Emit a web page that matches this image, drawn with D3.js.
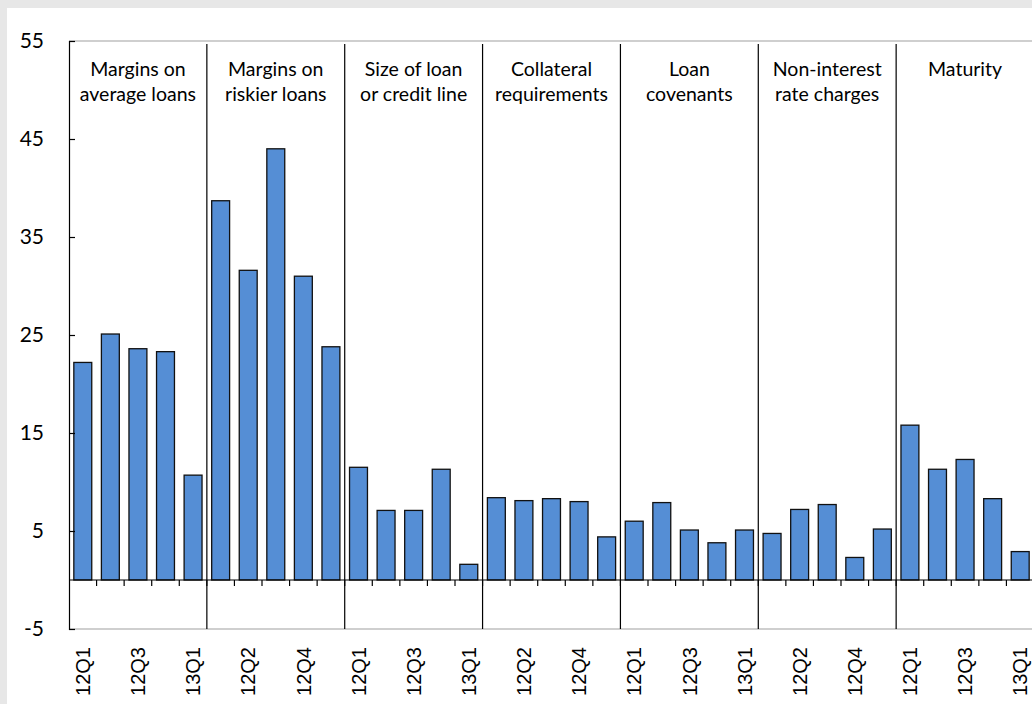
<!DOCTYPE html>
<html><head><meta charset="utf-8">
<script src="https://cdn.jsdelivr.net/npm/d3@7"></script>
<style>html,body{margin:0;padding:0;background:#e7e7e7;}svg{display:block;}</style>
</head><body>
<svg id="chart" width="1032" height="704"></svg>
<script>
const groups = ["Margins on|average loans","Margins on|riskier loans","Size of loan|or credit line","Collateral|requirements","Loan|covenants","Non-interest|rate charges","Maturity"];
const quarters = ["12Q1","12Q2","12Q3","12Q4","13Q1"];
const values = [
  [22.2, 25.1, 23.6, 23.3, 10.7],
  [38.7, 31.6, 44.0, 31.0, 23.8],
  [11.5, 7.1, 7.1, 11.3, 1.6],
  [8.4, 8.1, 8.3, 8.0, 4.4],
  [6.0, 7.9, 5.1, 3.8, 5.1],
  [4.75, 7.2, 7.7, 2.3, 5.2],
  [15.8, 11.3, 12.3, 8.3, 2.9]
];
const yTicks = [-5, 5, 15, 25, 35, 45, 55];

(function () {
const data = [];
values.forEach((g, gi) => g.forEach((v, qi) => data.push({key: gi + "-" + qi, g: gi, q: quarters[qi], v: v, i: gi * quarters.length + qi})));

const svg = d3.select("#chart");
svg.append("rect").attr("x", 7).attr("y", 8).attr("width", 1025).attr("height", 696).attr("fill", "#fff");

const mLeft = 69, mTop = 41, mBottom = 629, mRight = 1034;
const y = d3.scaleLinear().domain([-5, 55]).range([mBottom, mTop]);
const x = d3.scaleBand().domain(data.map(d => d.key)).range([mLeft, mRight]).paddingInner(0.35).paddingOuter(0.175);
const step = x.step();
const gx = d3.scaleLinear().domain([0, groups.length]).range([mLeft, mRight]);

// frame lines
svg.append("line").attr("x1", mLeft).attr("x2", 1032).attr("y1", mTop).attr("y2", mTop).attr("stroke", "#bfbfbf").attr("stroke-width", 1.5);
svg.append("line").attr("x1", mLeft).attr("x2", 1032).attr("y1", mBottom).attr("y2", mBottom).attr("stroke", "#bfbfbf").attr("stroke-width", 1.5);

// group separators
svg.selectAll("line.sep").data(d3.range(1, groups.length)).join("line")
  .attr("x1", d => gx(d)).attr("x2", d => gx(d)).attr("y1", mTop + 3).attr("y2", mBottom)
  .attr("stroke", "#000").attr("stroke-width", 1.2);

// bars
svg.selectAll("rect.bar").data(data).join("rect")
  .attr("x", d => x(d.key)).attr("width", x.bandwidth())
  .attr("y", d => y(Math.max(0, d.v))).attr("height", d => Math.abs(y(d.v) - y(0)))
  .attr("fill", "#558ed5").attr("stroke", "#111").attr("stroke-width", 1.3);

// y axis
const yAxis = d3.axisLeft(y).tickValues(yTicks).tickSize(-6).tickPadding(25).tickFormat(d => String(d));
const ya = svg.append("g").attr("transform", `translate(${mLeft},0)`).call(yAxis);
ya.select(".domain").attr("stroke", "#000").attr("stroke-width", 1.2);
ya.selectAll(".tick line").attr("stroke", "#000").attr("stroke-width", 1.2);
ya.selectAll("text").attr("font-family", "Lato, 'Open Sans', sans-serif").attr("font-size", 21).attr("fill", "#000");

// zero axis with category ticks
svg.append("line").attr("x1", mLeft).attr("x2", 1032).attr("y1", y(0)).attr("y2", y(0)).attr("stroke", "#000").attr("stroke-width", 1.2);
svg.selectAll("line.ct").data(d3.range(1, data.length)).join("line")
  .attr("x1", d => mLeft + step * d).attr("x2", d => mLeft + step * d)
  .attr("y1", y(0)).attr("y2", y(0) + 6).attr("stroke", "#000").attr("stroke-width", 1.2);

// x labels (every other)
svg.selectAll("text.xl").data(data.filter(d => d.i % 2 === 0)).join("text")
  .attr("transform", d => `translate(${x(d.key) + x.bandwidth() / 2},647) rotate(-90)`)
  .attr("text-anchor", "end").attr("dy", "0.36em")
  .attr("font-family", "'Liberation Sans', Arial, sans-serif").attr("font-size", 20).attr("fill", "#000")
  .text(d => d.q);

// group titles
const gt = svg.selectAll("text.gt").data(groups).join("text")
  .attr("text-anchor", "middle")
  .attr("font-family", "Lato, 'Open Sans', sans-serif").attr("font-size", 19.5).attr("fill", "#000");
gt.selectAll("tspan").data((d, gi) => d.split("|").map(s => ({s, gi}))).join("tspan")
  .attr("x", d => (gx(d.gi) + gx(d.gi + 1)) / 2)
  .attr("y", (d, i) => 76 + i * 24.5)
  .text(d => d.s);
})();
</script>
</body></html>
